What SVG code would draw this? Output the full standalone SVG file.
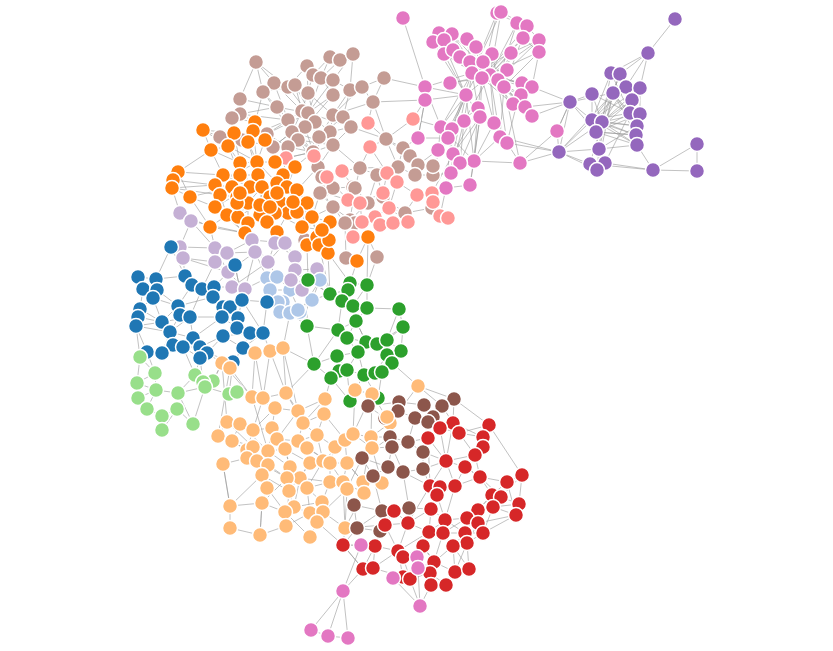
<svg xmlns="http://www.w3.org/2000/svg" width="833" height="651" viewBox="0 0 833 651">
<style>
.links path{fill:none;stroke:#999;stroke-opacity:.6;stroke-width:1}
.nodes circle{stroke:#fff;stroke-width:1.5}
.pu{fill:#9467bd}.pk{fill:#e377c2}.lbr{fill:#c49c94}.sa{fill:#ff9896}.or{fill:#ff7f0e}.lv{fill:#c5b0d5}.lbl{fill:#aec7e8}.bl{fill:#1f77b4}.lg{fill:#98df8a}.gr{fill:#2ca02c}.pe{fill:#ffbb78}.br{fill:#8c564b}.rd{fill:#d62728}
</style>
<rect width="833" height="651" fill="#fff"/>
<g class="links" id="links">
<path d="M675 19L648 53M648 53L611 73M648 53L620 74M648 53L626 87M648 53L640 88M611 73L602 122M620 74L613 93M626 87L630 113M640 88L602 122M640 88L640 114M592 94L602 122M592 94L570 102M592 94L592 120M613 93L592 120M613 93L636 135M613 93L637 126M613 93L630 113M570 102L592 120M570 102L559 152M570 102L596 132M570 102L557 131M632 100L602 122M632 100L640 114M630 113L592 120M640 114L596 132M637 126L602 122M636 135L592 120M637 145L602 122M637 145L653 170M637 126L599 149M559 152L602 122M559 152L592 120M559 152L599 149M559 152L590 164M559 152L597 170M559 152L557 131M599 149L637 145M590 164L653 170M605 163L653 170M597 170L599 149M596 132L636 135M592 120L637 145M653 170L697 144M653 170L697 171M697 144L697 171M596 132L599 149M602 122L599 149M630 113L596 132M636 135L602 122M611 73L630 113M620 74L596 132M626 87L592 120M611 73L592 120M620 74L602 122M626 87L596 132M640 88L592 120M632 100L596 132M640 114L602 122M637 126L592 120M636 135L596 132M637 145L596 132M599 149L613 93M590 164L602 122M605 163L630 113M597 170L613 93M559 152L613 93M570 102L613 93M592 94L630 113M570 102L525 107M570 102L532 87M559 152L507 143M559 152L500 137"/>
<path d="M497 13L472 73M501 12L490 75M497 13L517 23M501 12L527 26M517 23L498 80M527 26L504 87M517 23L523 38M527 26L539 40M439 33L472 73M452 34L482 78M433 42L466 95M444 40L490 75M467 39L482 78M439 33L452 34M433 42L444 40M467 39L476 47M523 38L490 75M539 40L498 80M476 47L472 73M444 54L482 78M460 57L490 75M453 50L472 73M492 54L472 73M511 53L490 75M539 52L482 78M523 38L539 52M511 53L539 40M470 62L498 80M483 62L466 95M507 70L472 73M472 73L490 75M490 75L482 78M482 78L498 80M498 80L504 87M450 83L482 78M425 87L472 73M504 87L472 73M522 83L490 75M532 87L482 78M466 95L490 75M521 95L482 78M425 100L466 95M513 104L490 75M478 108L482 78M525 107L498 80M480 117L466 95M532 116L504 87M464 121L490 75M494 123L482 78M441 127L472 73M452 129L466 95M500 137L504 87M507 143L522 83M418 138L425 100M448 138L466 95M438 150L441 127M453 154L466 95M474 161L478 108M460 163L464 121M520 163L507 143M451 173L453 154M470 185L474 161M446 188L451 173M474 161L494 123M474 161L500 137M474 161L520 163M474 161L480 117M474 161L441 127M453 154L480 117M403 18L425 87M425 87L425 100M425 87L441 127M425 100L418 138M418 138L448 138M441 127L452 129M438 150L453 154M448 138L460 163M446 188L470 185M451 173L474 161M520 163L557 131M520 163L559 152M532 116L570 102M557 131L570 102M539 52L532 87M522 83L532 87M513 104L525 107M525 107L532 116M500 137L507 143M494 123L500 137M464 121L480 117M444 54L490 75M460 57L498 80M453 50L482 78M470 62L472 73M483 62L490 75M507 70L482 78M439 33L498 80M452 34L472 73M467 39L490 75M492 54L498 80M511 53L472 73M497 13L482 78M501 12L472 73M517 23L490 75M527 26L482 78M439 33L466 95M452 34L490 75M433 42L472 73M444 40L482 78M467 39L472 73M523 38L482 78M539 40L490 75M476 47L490 75M444 54L466 95M460 57L472 73M453 50L490 75M492 54L482 78M511 53L498 80M539 52L504 87M470 62L482 78M483 62L472 73M507 70L490 75M450 83L490 75M425 87L466 95M504 87L482 78M522 83L472 73M532 87L490 75M521 95L490 75M513 104L482 78M478 108L472 73M525 107L490 75M480 117L482 78M532 116L490 75M464 121L472 73M494 123L490 75M441 127L466 95M452 129L478 108M500 137L490 75M507 143L498 80M448 138L472 73M438 150L466 95M453 154L478 108M474 161L466 95M460 163L480 117M520 163L504 87M451 173L464 121M470 185L480 117M446 188L452 129"/>
<path d="M413 119L425 100M413 119L441 127M433 166L448 138M433 175L451 173M418 165L438 150M440 216L446 188M432 193L453 154M384 78L425 87M373 102L425 100M418 138L403 148"/>
<path d="M256 62L274 83M256 62L288 87M330 57L313 75M340 60L321 78M353 54L333 80M330 57L340 60M340 60L353 54M307 66L313 75M307 66L288 87M321 78L308 113M333 80L308 113M313 75L302 111M274 83L302 111M288 87L308 113M295 85L315 122M308 93L333 115M333 95L308 113M350 90L333 115M263 92L292 132M240 99L277 107M277 107L308 113M302 111L308 113M240 114L288 120M232 118L240 114M288 120L313 152M315 122L292 132M305 127L313 152M351 127L333 115M292 132L313 152M330 132L308 113M220 137L242 140M242 140L288 120M267 134L308 113M298 140L313 152M319 137L333 115M288 147L313 152M273 147L292 132M333 145L313 152M318 167L313 152M322 192L318 167M333 188L322 177M353 187L355 188M333 207L322 192M384 78L362 87M362 87L333 115M373 102L333 115M386 139L351 127M403 148L386 139M410 156L386 139M418 165L403 148M398 167L360 168M360 168L333 145M433 175L415 175M415 175L398 167M322 177L313 152M355 188L360 168M320 193L322 177M377 175L398 167M383 197L377 175M405 213L383 197M432 208L405 213M368 203L355 188M350 220L368 203M355 223L350 220M345 223L333 207M433 166L418 165M305 240L320 193M346 258L345 223M377 257L368 237M305 240L307 203M333 80L350 90M350 90L362 87M308 93L288 87M263 92L288 87M232 118L255 122M220 137L234 133M242 140L248 142M308 113L351 127M292 132L333 145M302 111L267 134M315 122L319 137M298 140L333 145M313 152L286 158M313 152L314 156M256 62L240 99M274 83L263 92M295 85L308 93M321 78L333 95M343 117L351 127M240 114L277 107M305 127L330 132M330 132L351 127M319 137L330 132M256 62L263 92M330 57L321 78M353 54L350 90M307 66L308 93M274 83L288 120M295 85L302 111M308 93L315 122M333 95L305 127M350 90L343 117M263 92L277 107M240 99L240 114M277 107L288 120M302 111L292 132M308 113L305 127M333 115L330 132M343 117L319 137M288 120L298 140M315 122L313 152M305 127L288 147M351 127L333 145M292 132L273 147M330 132L313 152M242 140L273 147M267 134L288 147M298 140L318 167M319 137L313 152M333 145L318 167M384 78L373 102M362 87L373 102M373 102L386 139M386 139L398 167M403 148L398 167M410 156L415 175M418 165L415 175M360 168L377 175M377 175L368 203M383 197L368 203M355 188L350 220M322 177L333 188M320 193L333 207M333 188L353 187M405 213L389 208M432 208L433 202M350 220L333 207"/>
<path d="M286 158L313 152M314 156L327 177M342 171L327 177M342 171L360 168M368 123L373 102M368 123L386 139M413 119L386 139M370 147L386 139M370 147L360 168M387 173L397 182M397 182L417 195M417 195L432 193M432 193L433 202M433 202L440 216M440 216L448 218M348 200L360 203M360 203L383 193M383 193L387 173M389 208L375 217M375 217L380 225M362 222L375 217M393 223L408 222M408 222L389 208M353 237L362 222M327 177L348 200M387 173L370 147M397 182L389 208M360 203L362 222M380 225L393 223M348 200L322 192M353 237L345 223M342 171L353 187M387 173L377 175M417 195L405 213"/>
<path d="M203 130L211 150M211 150L228 146M255 122L253 131M253 131L248 142M234 133L248 142M228 146L240 163M248 142L257 162M265 140L257 162M240 163L257 162M275 162L257 162M295 167L283 175M178 172L173 180M173 180L172 188M172 188L190 197M178 172L211 150M223 175L240 175M240 175L258 175M258 175L262 187M283 175L277 183M215 185L232 187M232 187L250 187M250 187L262 187M262 187L277 183M277 183L287 187M287 187L297 190M190 197L215 207M220 195L237 197M237 197L250 187M270 197L262 187M280 202L270 197M307 203L297 190M215 207L227 215M248 203L262 187M288 213L297 212M227 215L238 217M238 217L248 203M260 215L270 207M275 213L280 202M312 217L307 203M210 227L227 215M248 223L260 215M245 233L248 223M267 222L275 213M277 232L267 222M302 227L297 212M307 245L302 227M237 203L248 203M260 205L270 207M240 193L250 187M277 193L270 197M293 202L297 190M317 237L312 217M330 222L312 217M368 237L353 237M319 245L317 237M328 253L319 245M357 261L346 258M329 240L317 237M322 230L330 222M257 162L262 187M240 175L262 187M223 175L250 187M215 185L257 162M283 175L262 187M228 146L257 162M265 140L283 175M190 197L232 187M220 195L262 187M260 215L262 187M288 213L270 197M238 217L270 197M215 207L250 187M275 162L295 167M297 190L307 203M211 150L240 163M203 130L234 133M178 172L223 175M172 188L215 185M245 233L210 227M307 245L328 253M357 261L368 237M248 142L242 140M255 122L240 114M265 140L273 147M275 162L288 147M295 167L313 152M297 190L318 167M307 203L322 192M312 217L333 207M283 175L286 158M253 131L263 92M234 133L232 118M203 130L220 137M203 130L228 146M255 122L265 140M253 131L257 162M234 133L240 163M211 150L223 175M228 146L240 175M248 142L258 175M265 140L275 162M240 163L250 187M257 162L277 183M275 162L283 175M295 167L287 187M178 172L190 197M173 180L215 185M172 188L220 195M223 175L232 187M240 175L250 187M258 175L270 197M283 175L297 190M215 185L215 207M232 187L237 203M250 187L248 203M262 187L260 205M277 183L280 202M287 187L293 202M297 190L297 212M190 197L210 227M220 195L227 215M237 197L238 217M270 197L275 213M280 202L288 213M307 203L302 227M215 207L245 233M248 203L248 223M288 213L277 232M297 212L312 217M227 215L245 233M238 217L267 222M260 215L277 232M275 213L302 227M312 217L317 237M260 205L267 222M270 207L288 213M240 193L237 203M277 193L293 202M322 230L317 237M330 222L329 240M319 245L329 240M302 227L322 230M307 245L319 245"/>
<path d="M180 213L191 221M191 221L215 248M180 213L172 188M180 247L183 258M180 247L215 248M183 258L215 262M215 248L227 253M227 253L252 240M215 262L228 272M228 272L255 252M252 240L255 252M255 252L268 262M268 262L275 243M275 243L285 243M285 243L295 257M295 257L295 270M295 270L291 280M291 280L302 290M232 287L245 289M245 289L228 272M317 269L295 270M302 290L317 269M191 221L245 233M215 248L210 227M255 252L245 233M285 243L277 232M295 257L307 245M232 287L268 262M183 258L228 272M180 213L210 227M245 289L267 278M252 240L285 243M180 247L171 247M215 248L228 272M227 253L255 252M252 240L268 262M268 262L285 243M275 243L295 257M295 270L302 290M317 269L291 280M232 287L228 272M245 289L255 252M191 221L180 247M267 278L291 280M277 277L268 262"/>
<path d="M267 278L277 277M277 277L290 290M267 278L270 290M270 290L283 302M283 302L278 302M278 302L280 312M280 312L290 313M290 313L300 312M300 312L312 300M312 300L320 280M320 280L290 290M290 290L300 312M270 290L290 290M267 278L255 252M277 277L291 280M298 310L312 300M283 302L290 313M320 280L317 269M312 300L302 290M278 302L267 302M270 290L278 302M290 290L283 302M300 312L320 280M280 312L298 310"/>
<path d="M171 247L185 276M171 247L183 258M235 265L214 287M235 265L228 272M138 277L156 279M156 279L157 290M143 289L157 290M157 290L153 298M153 298L178 306M185 276L192 285M192 285L202 289M202 289L214 287M214 287L213 297M213 297L222 317M140 309L138 317M138 317L136 326M136 326L162 322M140 309L153 298M178 306L180 315M180 315L190 317M190 317L162 322M162 322L170 332M170 332L193 338M193 338L200 347M173 345L183 347M183 347L200 347M207 353L200 358M200 358L183 347M147 352L162 353M162 353L173 345M223 307L230 307M230 307L242 300M242 300L267 302M222 317L238 318M238 318L237 328M237 328L223 336M223 336L250 333M250 333L263 333M263 333L243 348M243 348L233 362M233 362L207 353M190 317L222 317M178 306L213 297M190 317L202 289M193 338L222 317M170 332L190 317M213 297L230 307M222 317L223 307M238 318L242 300M162 322L178 306M147 352L136 326M136 326L170 332M200 347L223 336M263 333L267 302M242 300L235 265M250 333L238 318M192 285L178 306M143 289L138 277M185 276L183 258M202 289L215 262M214 287L232 287M242 300L245 289M267 302L270 290M156 279L185 276M173 345L170 332M138 277L143 289M156 279L153 298M157 290L178 306M143 289L140 309M153 298L162 322M185 276L202 289M192 285L213 297M202 289L213 297M214 287L223 307M140 309L162 322M138 317L162 322M178 306L190 317M180 315L170 332M190 317L193 338M162 322L173 345M170 332L183 347M193 338L207 353M173 345L147 352M162 353L170 332M230 307L238 318M222 317L237 328M237 328L250 333M223 336L243 348M250 333L243 348M233 362L243 348M207 353L223 336M263 333L242 300M235 265L242 300M171 247L156 279"/>
<path d="M140 357L155 373M155 373L137 383M137 383L138 398M138 398L147 409M147 409L162 416M162 416L162 430M162 416L177 409M177 409L178 393M178 393L156 390M156 390L155 373M193 424L177 409M195 375L178 393M213 381L203 382M203 382L205 387M205 387L195 375M229 394L237 392M229 394L205 387M193 424L205 387M140 357L147 352M195 375L200 358M156 390L138 398M137 383L156 390M213 381L222 363M178 393L193 424M147 409L156 390M140 357L136 326M155 373L147 352M195 375L183 347M203 382L200 358M229 394L233 362M137 383L140 357M162 430L177 409M178 393L205 387"/>
<path d="M308 280L330 294M330 294L348 290M348 290L350 283M350 283L367 285M348 290L342 301M342 301L353 306M353 306L367 308M367 308L399 309M356 321L353 306M307 326L308 280M307 326L338 330M338 330L347 338M347 338L356 321M399 309L403 327M403 327L387 340M366 342L377 344M377 344L387 340M387 340L401 351M358 352L366 342M337 356L358 352M387 355L401 351M392 363L387 355M314 364L307 326M339 371L347 370M347 370L364 375M364 375L375 373M375 373L382 372M382 372L392 363M331 378L339 371M314 364L331 378M350 401L331 378M378 398L382 372M356 321L366 342M338 330L356 321M367 285L367 308M342 301L308 280M347 338L358 352M337 356L314 364M358 352L364 375M377 344L387 355M403 327L401 351M330 294L312 300M308 280L320 280M350 283L328 253M367 285L377 257M339 371L337 356M366 342L356 321M308 280L307 245M330 294L319 245M330 294L328 253M350 283L357 261M367 285L368 237M307 326L290 313M342 301L320 280M314 364L283 348M314 364L286 393M331 378L325 399M350 401L355 390M378 398L372 394M392 363L418 386M364 375L355 390M330 294L342 301M367 285L353 306M353 306L356 321M367 308L356 321M399 309L387 340M338 330L342 301M347 338L366 342M403 327L377 344M366 342L387 355M358 352L347 370M337 356L347 370M387 355L375 373M401 351L392 363M347 370L350 401M364 375L378 398M382 372L387 355M314 364L338 330"/>
<path d="M270 351L283 348M255 353L270 351M222 363L230 368M230 368L252 397M255 353L252 397M270 351L263 398M283 348L286 393M252 397L263 398M263 398L275 408M286 393L298 411M275 408L298 411M298 411L303 423M325 399L324 414M324 414L303 423M355 390L372 394M372 394L390 423M227 422L240 424M240 424L253 430M253 430L272 428M272 428L275 408M218 436L232 441M232 441L247 450M277 439L272 428M298 441L303 423M317 435L298 441M307 448L298 441M247 450L253 447M253 447L268 451M268 451L285 449M285 449L298 441M335 447L345 440M345 440L353 434M353 434L371 437M371 437L372 448M247 458L257 461M257 461L268 465M268 465L268 451M310 463L323 461M323 461L330 463M330 463L347 463M223 464L247 458M262 475L268 465M290 467L285 449M300 478L290 467M287 478L290 467M330 482L330 463M343 482L347 463M363 482L347 463M382 483L363 482M307 488L300 478M267 488L262 475M289 491L287 478M347 489L343 482M364 493L363 482M230 506L223 464M262 503L267 488M294 507L289 491M322 502L307 488M285 512L294 507M310 513L322 502M323 512L310 513M317 522L323 512M230 528L230 506M260 535L262 503M286 526L285 512M310 537L317 522M345 528L347 489M418 386L390 423M252 397L268 451M218 436L268 451M227 422L253 447M277 439L298 441M298 441L330 463M317 435L335 447M307 448L330 463M310 463L298 441M285 449L310 463M268 451L290 467M257 461L287 478M323 461L345 440M353 434L335 447M372 448L347 463M262 475L230 506M289 491L310 463M300 478L330 482M307 488L330 482M294 507L322 502M262 503L285 512M286 526L310 513M364 493L345 528M325 399L298 411M324 414L317 435M372 394L353 434M222 363L227 422M230 368L218 436M263 398L253 430M286 393L303 423M240 424L268 451M232 441L268 465M390 423L371 437M382 483L372 448M343 482L364 493M260 535L286 526M230 528L260 535M255 353L243 348M270 351L263 333M222 363L207 353M230 368L233 362M283 348L290 313M222 363L213 381M252 397L237 392M372 394L368 406M390 423L387 417M371 437L390 437M372 448L392 447M382 483L373 476M364 493L354 505M345 528L357 528M347 489L362 458M418 386L454 399M418 386L442 406M270 351L286 393M255 353L263 398M283 348L298 411M222 363L252 397M252 397L275 408M263 398L286 393M275 408L253 430M298 411L277 439M303 423L317 435M325 399L303 423M324 414L345 440M355 390L353 434M372 394L371 437M227 422L218 436M240 424L232 441M253 430L247 450M272 428L268 451M277 439L285 449M298 441L307 448M317 435L323 461M307 448L310 463M247 450L247 458M253 447L257 461M268 451L268 465M285 449L290 467M335 447L330 463M345 440L347 463M353 434L372 448M371 437L363 482M247 458L262 475M257 461L267 488M268 465L287 478M310 463L300 478M323 461L307 488M330 463L343 482M347 463L363 482M223 464L230 506M262 475L289 491M290 467L307 488M300 478L294 507M287 478L262 503M330 482L322 502M343 482L345 528M307 488L310 513M267 488L285 512M289 491L286 526M347 489L323 512M230 506L262 503M262 503L260 535M294 507L310 513M322 502L317 522M285 512L310 537M323 512L345 528"/>
<path d="M368 406L385 418M385 418L387 417M387 417L399 402M399 402L398 411M398 411L415 418M415 418L428 422M428 422L433 417M433 417L442 406M442 406L454 399M424 405L433 417M424 405L399 402M390 437L392 447M392 447L408 442M408 442L423 452M423 452L423 469M423 469L403 472M403 472L388 467M388 467L373 476M362 458L390 437M362 458L373 476M354 505L373 476M382 511L354 505M357 528L382 511M380 531L357 528M409 508L382 511M390 437L385 418M408 442L415 418M392 447L388 467M403 472L409 508M423 452L428 422M454 399L489 425M442 406L453 423M424 405L440 428M423 469L446 461M423 452L428 438M409 508L431 509M380 531L385 525M357 528L343 545M382 511L394 511M380 531L375 546M403 472L430 486M368 406L399 402M385 418L398 411M390 437L408 442M392 447L403 472M362 458L388 467M373 476L382 511M354 505L357 528M382 511L409 508M454 399L453 423M424 405L415 418M433 417L440 428M428 422L428 438M408 442L428 438M423 452L446 461M423 469L430 486"/>
<path d="M453 423L440 428M440 428L459 433M459 433L453 423M428 438L440 428M489 425L483 437M483 437L483 447M483 447L475 455M475 455L465 467M465 467L446 461M446 461L428 438M480 477L465 467M522 475L507 482M507 482L480 477M430 486L440 487M440 487L455 486M455 486L437 495M437 495L430 486M492 495L501 497M501 497L519 504M519 504L516 515M516 515L493 507M493 507L478 510M478 510L467 518M467 518L445 520M445 520L431 509M431 509L437 495M394 511L408 523M408 523L385 525M478 523L483 533M483 533L465 533M465 533L467 543M429 532L443 533M443 533L445 520M343 545L375 546M375 546L398 551M398 551L403 557M403 557L423 546M423 546L429 532M453 546L443 533M434 562L423 546M430 573L434 562M455 572L453 546M469 569L455 572M363 569L373 568M373 568L398 551M403 577L410 579M410 579L430 573M431 585L430 573M446 585L455 572M459 433L483 437M446 461L455 486M480 477L492 495M455 486L480 477M493 507L501 497M478 510L492 495M465 467L455 486M475 455L480 477M437 495L445 520M431 509L408 523M467 518L478 523M467 543L453 546M483 533L516 515M465 533L443 533M522 475L519 504M489 425L522 475M440 487L431 509M428 438L430 486M394 511L385 525M385 525L375 546M408 523L429 532M398 551L429 532M434 562L455 572M469 569L467 543M363 569L343 545M403 577L373 568M446 585L431 585M445 520L465 533M453 423L446 461M430 486L408 523M478 510L483 533M507 482L516 515M453 423L483 437M489 425L459 433M440 428L446 461M459 433L475 455M483 437L475 455M483 447L465 467M475 455L446 461M446 461L430 486M465 467L480 477M480 477L501 497M522 475L501 497M507 482L492 495M440 487L437 495M455 486L445 520M492 495L478 510M519 504L493 507M516 515L478 523M493 507L483 533M478 510L465 533M467 518L443 533M445 520L429 532M431 509L429 532M408 523L398 551M385 525L398 551M478 523L467 543M483 533L467 543M465 533L453 546M467 543L455 572M429 532L423 546M443 533L434 562M343 545L363 569M375 546L373 568M398 551L403 577M403 557L410 579M423 546L434 562M453 546L434 562M434 562L431 585M430 573L446 585M455 572L446 585M469 569L453 546M363 569L375 546"/>
<path d="M361 545L343 545M361 545L375 546M417 557L403 557M418 568L434 562M393 578L403 577M343 591L363 569M343 591L361 545M420 606L393 578M420 606L431 585M420 606L418 568M420 606L410 579M311 630L343 591M328 636L343 591M348 638L343 591M311 630L328 636M328 636L348 638M417 557L418 568M393 578L418 568M385 525L345 528M343 545L345 528M343 545L317 522"/>
</g>
<g class="nodes" id="nodes">
<g id="pu1" class="pu"><circle cx="675" cy="19" r="7.5"/></g>
<g id="pu2" class="pu"><circle cx="648" cy="53" r="7.5"/></g>
<g id="pu3" class="pu"><circle cx="611" cy="73" r="7.5"/></g>
<g id="pu4" class="pu"><circle cx="620" cy="74" r="7.5"/></g>
<g id="pu5" class="pu"><circle cx="626" cy="87" r="7.5"/></g>
<g id="pu6" class="pu"><circle cx="640" cy="88" r="7.5"/></g>
<g id="pu7" class="pu"><circle cx="592" cy="94" r="7.5"/></g>
<g id="pu8" class="pu"><circle cx="613" cy="93" r="7.5"/></g>
<g id="pu9" class="pu"><circle cx="570" cy="102" r="7.5"/></g>
<g id="pu10" class="pu"><circle cx="632" cy="100" r="7.5"/></g>
<g id="pu11" class="pu"><circle cx="630" cy="113" r="7.5"/></g>
<g id="pu12" class="pu"><circle cx="640" cy="114" r="7.5"/></g>
<g id="pu13" class="pu"><circle cx="592" cy="120" r="7.5"/></g>
<g id="pu14" class="pu"><circle cx="602" cy="122" r="7.5"/></g>
<g id="pu15" class="pu"><circle cx="596" cy="132" r="7.5"/></g>
<g id="pu16" class="pu"><circle cx="637" cy="126" r="7.5"/></g>
<g id="pu17" class="pu"><circle cx="636" cy="135" r="7.5"/></g>
<g id="pu18" class="pu"><circle cx="637" cy="145" r="7.5"/></g>
<g id="pu19" class="pu"><circle cx="559" cy="152" r="7.5"/></g>
<g id="pu20" class="pu"><circle cx="599" cy="149" r="7.5"/></g>
<g id="pu21" class="pu"><circle cx="590" cy="164" r="7.5"/></g>
<g id="pu22" class="pu"><circle cx="605" cy="163" r="7.5"/></g>
<g id="pu23" class="pu"><circle cx="597" cy="170" r="7.5"/></g>
<g id="pu24" class="pu"><circle cx="653" cy="170" r="7.5"/></g>
<g id="pu25" class="pu"><circle cx="697" cy="144" r="7.5"/></g>
<g id="pu26" class="pu"><circle cx="697" cy="171" r="7.5"/></g>
<g id="pk1" class="pk"><circle cx="403" cy="18" r="7.5"/></g>
<g id="pk2" class="pk"><circle cx="497" cy="13" r="7.5"/></g>
<g id="pk3" class="pk"><circle cx="501" cy="12" r="7.5"/></g>
<g id="pk4" class="pk"><circle cx="517" cy="23" r="7.5"/></g>
<g id="pk5" class="pk"><circle cx="527" cy="26" r="7.5"/></g>
<g id="pk6" class="pk"><circle cx="439" cy="33" r="7.5"/></g>
<g id="pk7" class="pk"><circle cx="452" cy="34" r="7.5"/></g>
<g id="pk8" class="pk"><circle cx="433" cy="42" r="7.5"/></g>
<g id="pk9" class="pk"><circle cx="444" cy="40" r="7.5"/></g>
<g id="pk10" class="pk"><circle cx="467" cy="39" r="7.5"/></g>
<g id="pk11" class="pk"><circle cx="523" cy="38" r="7.5"/></g>
<g id="pk12" class="pk"><circle cx="539" cy="40" r="7.5"/></g>
<g id="pk13" class="pk"><circle cx="476" cy="47" r="7.5"/></g>
<g id="pk14" class="pk"><circle cx="444" cy="54" r="7.5"/></g>
<g id="pk15" class="pk"><circle cx="453" cy="50" r="7.5"/></g>
<g id="pk16" class="pk"><circle cx="460" cy="57" r="7.5"/></g>
<g id="pk17" class="pk"><circle cx="492" cy="54" r="7.5"/></g>
<g id="pk18" class="pk"><circle cx="511" cy="53" r="7.5"/></g>
<g id="pk19" class="pk"><circle cx="539" cy="52" r="7.5"/></g>
<g id="pk20" class="pk"><circle cx="470" cy="62" r="7.5"/></g>
<g id="pk21" class="pk"><circle cx="483" cy="62" r="7.5"/></g>
<g id="pk22" class="pk"><circle cx="507" cy="70" r="7.5"/></g>
<g id="pk23" class="pk"><circle cx="472" cy="73" r="7.5"/></g>
<g id="pk24" class="pk"><circle cx="490" cy="75" r="7.5"/></g>
<g id="pk25" class="pk"><circle cx="482" cy="78" r="7.5"/></g>
<g id="pk26" class="pk"><circle cx="498" cy="80" r="7.5"/></g>
<g id="pk27" class="pk"><circle cx="450" cy="83" r="7.5"/></g>
<g id="pk28" class="pk"><circle cx="425" cy="87" r="7.5"/></g>
<g id="pk29" class="pk"><circle cx="504" cy="87" r="7.5"/></g>
<g id="pk30" class="pk"><circle cx="522" cy="83" r="7.5"/></g>
<g id="pk31" class="pk"><circle cx="532" cy="87" r="7.5"/></g>
<g id="pk32" class="pk"><circle cx="466" cy="95" r="7.5"/></g>
<g id="pk33" class="pk"><circle cx="521" cy="95" r="7.5"/></g>
<g id="pk34" class="pk"><circle cx="425" cy="100" r="7.5"/></g>
<g id="pk35" class="pk"><circle cx="513" cy="104" r="7.5"/></g>
<g id="pk36" class="pk"><circle cx="478" cy="108" r="7.5"/></g>
<g id="pk37" class="pk"><circle cx="525" cy="107" r="7.5"/></g>
<g id="pk38" class="pk"><circle cx="480" cy="117" r="7.5"/></g>
<g id="pk39" class="pk"><circle cx="532" cy="116" r="7.5"/></g>
<g id="pk40" class="pk"><circle cx="464" cy="121" r="7.5"/></g>
<g id="pk41" class="pk"><circle cx="494" cy="123" r="7.5"/></g>
<g id="pk42" class="pk"><circle cx="441" cy="127" r="7.5"/></g>
<g id="pk43" class="pk"><circle cx="452" cy="129" r="7.5"/></g>
<g id="pk44" class="pk"><circle cx="557" cy="131" r="7.5"/></g>
<g id="pk45" class="pk"><circle cx="500" cy="137" r="7.5"/></g>
<g id="pk46" class="pk"><circle cx="507" cy="143" r="7.5"/></g>
<g id="pk47" class="pk"><circle cx="418" cy="138" r="7.5"/></g>
<g id="pk48" class="pk"><circle cx="448" cy="138" r="7.5"/></g>
<g id="pk49" class="pk"><circle cx="438" cy="150" r="7.5"/></g>
<g id="pk50" class="pk"><circle cx="453" cy="154" r="7.5"/></g>
<g id="pk51" class="pk"><circle cx="474" cy="161" r="7.5"/></g>
<g id="pk52" class="pk"><circle cx="460" cy="163" r="7.5"/></g>
<g id="pk53" class="pk"><circle cx="520" cy="163" r="7.5"/></g>
<g id="pk54" class="pk"><circle cx="451" cy="173" r="7.5"/></g>
<g id="pk55" class="pk"><circle cx="470" cy="185" r="7.5"/></g>
<g id="pk56" class="pk"><circle cx="446" cy="188" r="7.5"/></g>
<g id="lbr1" class="lbr"><circle cx="256" cy="62" r="7.5"/></g>
<g id="lbr2" class="lbr"><circle cx="330" cy="57" r="7.5"/></g>
<g id="lbr3" class="lbr"><circle cx="340" cy="60" r="7.5"/></g>
<g id="lbr4" class="lbr"><circle cx="353" cy="54" r="7.5"/></g>
<g id="lbr5" class="lbr"><circle cx="307" cy="66" r="7.5"/></g>
<g id="lbr6" class="lbr"><circle cx="313" cy="75" r="7.5"/></g>
<g id="lbr7" class="lbr"><circle cx="321" cy="78" r="7.5"/></g>
<g id="lbr8" class="lbr"><circle cx="333" cy="80" r="7.5"/></g>
<g id="lbr9" class="lbr"><circle cx="274" cy="83" r="7.5"/></g>
<g id="lbr10" class="lbr"><circle cx="288" cy="87" r="7.5"/></g>
<g id="lbr11" class="lbr"><circle cx="295" cy="85" r="7.5"/></g>
<g id="lbr12" class="lbr"><circle cx="308" cy="93" r="7.5"/></g>
<g id="lbr13" class="lbr"><circle cx="333" cy="95" r="7.5"/></g>
<g id="lbr14" class="lbr"><circle cx="350" cy="90" r="7.5"/></g>
<g id="lbr15" class="lbr"><circle cx="263" cy="92" r="7.5"/></g>
<g id="lbr16" class="lbr"><circle cx="240" cy="99" r="7.5"/></g>
<g id="lbr17" class="lbr"><circle cx="277" cy="107" r="7.5"/></g>
<g id="lbr18" class="lbr"><circle cx="302" cy="111" r="7.5"/></g>
<g id="lbr19" class="lbr"><circle cx="308" cy="113" r="7.5"/></g>
<g id="lbr20" class="lbr"><circle cx="333" cy="115" r="7.5"/></g>
<g id="lbr21" class="lbr"><circle cx="343" cy="117" r="7.5"/></g>
<g id="lbr22" class="lbr"><circle cx="240" cy="114" r="7.5"/></g>
<g id="lbr23" class="lbr"><circle cx="232" cy="118" r="7.5"/></g>
<g id="lbr24" class="lbr"><circle cx="288" cy="120" r="7.5"/></g>
<g id="lbr25" class="lbr"><circle cx="315" cy="122" r="7.5"/></g>
<g id="lbr26" class="lbr"><circle cx="305" cy="127" r="7.5"/></g>
<g id="lbr27" class="lbr"><circle cx="351" cy="127" r="7.5"/></g>
<g id="lbr28" class="lbr"><circle cx="292" cy="132" r="7.5"/></g>
<g id="lbr29" class="lbr"><circle cx="330" cy="132" r="7.5"/></g>
<g id="lbr30" class="lbr"><circle cx="220" cy="137" r="7.5"/></g>
<g id="lbr31" class="lbr"><circle cx="242" cy="140" r="7.5"/></g>
<g id="lbr32" class="lbr"><circle cx="267" cy="134" r="7.5"/></g>
<g id="lbr33" class="lbr"><circle cx="298" cy="140" r="7.5"/></g>
<g id="lbr34" class="lbr"><circle cx="319" cy="137" r="7.5"/></g>
<g id="lbr35" class="lbr"><circle cx="288" cy="147" r="7.5"/></g>
<g id="lbr36" class="lbr"><circle cx="273" cy="147" r="7.5"/></g>
<g id="lbr37" class="lbr"><circle cx="313" cy="152" r="7.5"/></g>
<g id="lbr38" class="lbr"><circle cx="333" cy="145" r="7.5"/></g>
<g id="lbr39" class="lbr"><circle cx="318" cy="167" r="7.5"/></g>
<g id="lbr40" class="lbr"><circle cx="322" cy="192" r="7.5"/></g>
<g id="lbr41" class="lbr"><circle cx="333" cy="188" r="7.5"/></g>
<g id="lbr42" class="lbr"><circle cx="353" cy="187" r="7.5"/></g>
<g id="lbr43" class="lbr"><circle cx="333" cy="207" r="7.5"/></g>
<g id="lbr44" class="lbr"><circle cx="384" cy="78" r="7.5"/></g>
<g id="lbr45" class="lbr"><circle cx="362" cy="87" r="7.5"/></g>
<g id="lbr46" class="lbr"><circle cx="373" cy="102" r="7.5"/></g>
<g id="lbr47" class="lbr"><circle cx="386" cy="139" r="7.5"/></g>
<g id="lbr48" class="lbr"><circle cx="403" cy="148" r="7.5"/></g>
<g id="lbr49" class="lbr"><circle cx="410" cy="156" r="7.5"/></g>
<g id="lbr50" class="lbr"><circle cx="418" cy="165" r="7.5"/></g>
<g id="lbr51" class="lbr"><circle cx="398" cy="167" r="7.5"/></g>
<g id="lbr52" class="lbr"><circle cx="360" cy="168" r="7.5"/></g>
<g id="lbr53" class="lbr"><circle cx="433" cy="175" r="7.5"/></g>
<g id="lbr54" class="lbr"><circle cx="415" cy="175" r="7.5"/></g>
<g id="lbr55" class="lbr"><circle cx="322" cy="177" r="7.5"/></g>
<g id="lbr56" class="lbr"><circle cx="320" cy="193" r="7.5"/></g>
<g id="lbr57" class="lbr"><circle cx="377" cy="175" r="7.5"/></g>
<g id="lbr58" class="lbr"><circle cx="383" cy="197" r="7.5"/></g>
<g id="lbr59" class="lbr"><circle cx="405" cy="213" r="7.5"/></g>
<g id="lbr60" class="lbr"><circle cx="432" cy="208" r="7.5"/></g>
<g id="lbr61" class="lbr"><circle cx="368" cy="203" r="7.5"/></g>
<g id="lbr62" class="lbr"><circle cx="350" cy="220" r="7.5"/></g>
<g id="lbr63" class="lbr"><circle cx="355" cy="223" r="7.5"/></g>
<g id="lbr64" class="lbr"><circle cx="345" cy="223" r="7.5"/></g>
<g id="lbr65" class="lbr"><circle cx="433" cy="166" r="7.5"/></g>
<g id="lbr66" class="lbr"><circle cx="305" cy="240" r="7.5"/></g>
<g id="lbr67" class="lbr"><circle cx="346" cy="258" r="7.5"/></g>
<g id="lbr68" class="lbr"><circle cx="377" cy="257" r="7.5"/></g>
<g id="lbr69" class="lbr"><circle cx="355" cy="188" r="7.5"/></g>
<g id="sa1" class="sa"><circle cx="286" cy="158" r="7.5"/></g>
<g id="sa2" class="sa"><circle cx="314" cy="156" r="7.5"/></g>
<g id="sa3" class="sa"><circle cx="342" cy="171" r="7.5"/></g>
<g id="sa4" class="sa"><circle cx="327" cy="177" r="7.5"/></g>
<g id="sa5" class="sa"><circle cx="368" cy="123" r="7.5"/></g>
<g id="sa6" class="sa"><circle cx="413" cy="119" r="7.5"/></g>
<g id="sa7" class="sa"><circle cx="370" cy="147" r="7.5"/></g>
<g id="sa8" class="sa"><circle cx="387" cy="173" r="7.5"/></g>
<g id="sa9" class="sa"><circle cx="397" cy="182" r="7.5"/></g>
<g id="sa10" class="sa"><circle cx="417" cy="195" r="7.5"/></g>
<g id="sa11" class="sa"><circle cx="432" cy="193" r="7.5"/></g>
<g id="sa12" class="sa"><circle cx="433" cy="202" r="7.5"/></g>
<g id="sa13" class="sa"><circle cx="348" cy="200" r="7.5"/></g>
<g id="sa14" class="sa"><circle cx="360" cy="203" r="7.5"/></g>
<g id="sa15" class="sa"><circle cx="383" cy="193" r="7.5"/></g>
<g id="sa16" class="sa"><circle cx="389" cy="208" r="7.5"/></g>
<g id="sa17" class="sa"><circle cx="375" cy="217" r="7.5"/></g>
<g id="sa18" class="sa"><circle cx="380" cy="225" r="7.5"/></g>
<g id="sa19" class="sa"><circle cx="362" cy="222" r="7.5"/></g>
<g id="sa20" class="sa"><circle cx="393" cy="223" r="7.5"/></g>
<g id="sa21" class="sa"><circle cx="440" cy="216" r="7.5"/></g>
<g id="sa22" class="sa"><circle cx="448" cy="218" r="7.5"/></g>
<g id="sa23" class="sa"><circle cx="408" cy="222" r="7.5"/></g>
<g id="sa24" class="sa"><circle cx="353" cy="237" r="7.5"/></g>
<g id="or1" class="or"><circle cx="203" cy="130" r="7.5"/></g>
<g id="or2" class="or"><circle cx="255" cy="122" r="7.5"/></g>
<g id="or3" class="or"><circle cx="253" cy="131" r="7.5"/></g>
<g id="or4" class="or"><circle cx="234" cy="133" r="7.5"/></g>
<g id="or5" class="or"><circle cx="211" cy="150" r="7.5"/></g>
<g id="or6" class="or"><circle cx="228" cy="146" r="7.5"/></g>
<g id="or7" class="or"><circle cx="248" cy="142" r="7.5"/></g>
<g id="or8" class="or"><circle cx="265" cy="140" r="7.5"/></g>
<g id="or9" class="or"><circle cx="240" cy="163" r="7.5"/></g>
<g id="or10" class="or"><circle cx="257" cy="162" r="7.5"/></g>
<g id="or11" class="or"><circle cx="275" cy="162" r="7.5"/></g>
<g id="or12" class="or"><circle cx="295" cy="167" r="7.5"/></g>
<g id="or13" class="or"><circle cx="178" cy="172" r="7.5"/></g>
<g id="or14" class="or"><circle cx="173" cy="180" r="7.5"/></g>
<g id="or15" class="or"><circle cx="172" cy="188" r="7.5"/></g>
<g id="or16" class="or"><circle cx="223" cy="175" r="7.5"/></g>
<g id="or17" class="or"><circle cx="240" cy="175" r="7.5"/></g>
<g id="or18" class="or"><circle cx="258" cy="175" r="7.5"/></g>
<g id="or19" class="or"><circle cx="283" cy="175" r="7.5"/></g>
<g id="or20" class="or"><circle cx="215" cy="185" r="7.5"/></g>
<g id="or21" class="or"><circle cx="232" cy="187" r="7.5"/></g>
<g id="or22" class="or"><circle cx="250" cy="187" r="7.5"/></g>
<g id="or23" class="or"><circle cx="262" cy="187" r="7.5"/></g>
<g id="or24" class="or"><circle cx="277" cy="183" r="7.5"/></g>
<g id="or25" class="or"><circle cx="287" cy="187" r="7.5"/></g>
<g id="or26" class="or"><circle cx="297" cy="190" r="7.5"/></g>
<g id="or27" class="or"><circle cx="190" cy="197" r="7.5"/></g>
<g id="or28" class="or"><circle cx="220" cy="195" r="7.5"/></g>
<g id="or29" class="or"><circle cx="237" cy="197" r="7.5"/></g>
<g id="or30" class="or"><circle cx="270" cy="197" r="7.5"/></g>
<g id="or31" class="or"><circle cx="280" cy="202" r="7.5"/></g>
<g id="or32" class="or"><circle cx="307" cy="203" r="7.5"/></g>
<g id="or33" class="or"><circle cx="215" cy="207" r="7.5"/></g>
<g id="or34" class="or"><circle cx="248" cy="203" r="7.5"/></g>
<g id="or35" class="or"><circle cx="288" cy="213" r="7.5"/></g>
<g id="or36" class="or"><circle cx="297" cy="212" r="7.5"/></g>
<g id="or37" class="or"><circle cx="227" cy="215" r="7.5"/></g>
<g id="or38" class="or"><circle cx="238" cy="217" r="7.5"/></g>
<g id="or39" class="or"><circle cx="260" cy="215" r="7.5"/></g>
<g id="or40" class="or"><circle cx="275" cy="213" r="7.5"/></g>
<g id="or41" class="or"><circle cx="312" cy="217" r="7.5"/></g>
<g id="or42" class="or"><circle cx="210" cy="227" r="7.5"/></g>
<g id="or43" class="or"><circle cx="248" cy="223" r="7.5"/></g>
<g id="or44" class="or"><circle cx="245" cy="233" r="7.5"/></g>
<g id="or45" class="or"><circle cx="267" cy="222" r="7.5"/></g>
<g id="or46" class="or"><circle cx="277" cy="232" r="7.5"/></g>
<g id="or47" class="or"><circle cx="302" cy="227" r="7.5"/></g>
<g id="or48" class="or"><circle cx="307" cy="245" r="7.5"/></g>
<g id="or49" class="or"><circle cx="237" cy="203" r="7.5"/></g>
<g id="or50" class="or"><circle cx="260" cy="205" r="7.5"/></g>
<g id="or51" class="or"><circle cx="270" cy="207" r="7.5"/></g>
<g id="or52" class="or"><circle cx="240" cy="193" r="7.5"/></g>
<g id="or53" class="or"><circle cx="277" cy="193" r="7.5"/></g>
<g id="or54" class="or"><circle cx="293" cy="202" r="7.5"/></g>
<g id="or55" class="or"><circle cx="317" cy="237" r="7.5"/></g>
<g id="or56" class="or"><circle cx="330" cy="222" r="7.5"/></g>
<g id="or57" class="or"><circle cx="368" cy="237" r="7.5"/></g>
<g id="or58" class="or"><circle cx="319" cy="245" r="7.5"/></g>
<g id="or59" class="or"><circle cx="328" cy="253" r="7.5"/></g>
<g id="or60" class="or"><circle cx="357" cy="261" r="7.5"/></g>
<g id="or61" class="or"><circle cx="329" cy="240" r="7.5"/></g>
<g id="or62" class="or"><circle cx="322" cy="230" r="7.5"/></g>
<g id="lv1" class="lv"><circle cx="180" cy="213" r="7.5"/></g>
<g id="lv2" class="lv"><circle cx="191" cy="221" r="7.5"/></g>
<g id="lv3" class="lv"><circle cx="180" cy="247" r="7.5"/></g>
<g id="lv4" class="lv"><circle cx="183" cy="258" r="7.5"/></g>
<g id="lv5" class="lv"><circle cx="215" cy="248" r="7.5"/></g>
<g id="lv6" class="lv"><circle cx="227" cy="253" r="7.5"/></g>
<g id="lv7" class="lv"><circle cx="215" cy="262" r="7.5"/></g>
<g id="lv8" class="lv"><circle cx="228" cy="272" r="7.5"/></g>
<g id="lv9" class="lv"><circle cx="252" cy="240" r="7.5"/></g>
<g id="lv10" class="lv"><circle cx="255" cy="252" r="7.5"/></g>
<g id="lv11" class="lv"><circle cx="268" cy="262" r="7.5"/></g>
<g id="lv12" class="lv"><circle cx="275" cy="243" r="7.5"/></g>
<g id="lv13" class="lv"><circle cx="285" cy="243" r="7.5"/></g>
<g id="lv14" class="lv"><circle cx="295" cy="257" r="7.5"/></g>
<g id="lv15" class="lv"><circle cx="295" cy="270" r="7.5"/></g>
<g id="lv16" class="lv"><circle cx="317" cy="269" r="7.5"/></g>
<g id="lv17" class="lv"><circle cx="232" cy="287" r="7.5"/></g>
<g id="lv18" class="lv"><circle cx="245" cy="289" r="7.5"/></g>
<g id="lbl1" class="lbl"><circle cx="267" cy="278" r="7.5"/></g>
<g id="lbl2" class="lbl"><circle cx="277" cy="277" r="7.5"/></g>
<g id="lbl3" class="lbl"><circle cx="270" cy="290" r="7.5"/></g>
<g id="lbl4" class="lbl"><circle cx="290" cy="290" r="7.5"/></g>
<g id="lbl5" class="lbl"><circle cx="320" cy="280" r="7.5"/></g>
<g id="lbl6" class="lbl"><circle cx="312" cy="300" r="7.5"/></g>
<g id="lbl7" class="lbl"><circle cx="283" cy="302" r="7.5"/></g>
<g id="lbl8" class="lbl"><circle cx="278" cy="302" r="7.5"/></g>
<g id="lbl9" class="lbl"><circle cx="280" cy="312" r="7.5"/></g>
<g id="lbl10" class="lbl"><circle cx="290" cy="313" r="7.5"/></g>
<g id="lbl11" class="lbl"><circle cx="300" cy="312" r="7.5"/></g>
<g id="lbl12" class="lbl"><circle cx="298" cy="310" r="7.5"/></g>
<g id="lv19" class="lv"><circle cx="291" cy="280" r="7.5"/></g>
<g id="lv20" class="lv"><circle cx="302" cy="290" r="7.5"/></g>
<g id="bl1" class="bl"><circle cx="171" cy="247" r="7.5"/></g>
<g id="bl2" class="bl"><circle cx="235" cy="265" r="7.5"/></g>
<g id="bl3" class="bl"><circle cx="138" cy="277" r="7.5"/></g>
<g id="bl4" class="bl"><circle cx="156" cy="279" r="7.5"/></g>
<g id="bl5" class="bl"><circle cx="143" cy="289" r="7.5"/></g>
<g id="bl6" class="bl"><circle cx="157" cy="290" r="7.5"/></g>
<g id="bl7" class="bl"><circle cx="153" cy="298" r="7.5"/></g>
<g id="bl8" class="bl"><circle cx="185" cy="276" r="7.5"/></g>
<g id="bl9" class="bl"><circle cx="192" cy="285" r="7.5"/></g>
<g id="bl10" class="bl"><circle cx="202" cy="289" r="7.5"/></g>
<g id="bl11" class="bl"><circle cx="214" cy="287" r="7.5"/></g>
<g id="bl12" class="bl"><circle cx="213" cy="297" r="7.5"/></g>
<g id="bl13" class="bl"><circle cx="140" cy="309" r="7.5"/></g>
<g id="bl14" class="bl"><circle cx="138" cy="317" r="7.5"/></g>
<g id="bl15" class="bl"><circle cx="136" cy="326" r="7.5"/></g>
<g id="bl16" class="bl"><circle cx="178" cy="306" r="7.5"/></g>
<g id="bl17" class="bl"><circle cx="180" cy="315" r="7.5"/></g>
<g id="bl18" class="bl"><circle cx="190" cy="317" r="7.5"/></g>
<g id="bl19" class="bl"><circle cx="162" cy="322" r="7.5"/></g>
<g id="bl20" class="bl"><circle cx="170" cy="332" r="7.5"/></g>
<g id="bl21" class="bl"><circle cx="193" cy="338" r="7.5"/></g>
<g id="bl22" class="bl"><circle cx="200" cy="347" r="7.5"/></g>
<g id="bl23" class="bl"><circle cx="173" cy="345" r="7.5"/></g>
<g id="bl24" class="bl"><circle cx="183" cy="347" r="7.5"/></g>
<g id="bl25" class="bl"><circle cx="207" cy="353" r="7.5"/></g>
<g id="bl26" class="bl"><circle cx="200" cy="358" r="7.5"/></g>
<g id="bl27" class="bl"><circle cx="147" cy="352" r="7.5"/></g>
<g id="bl28" class="bl"><circle cx="162" cy="353" r="7.5"/></g>
<g id="bl29" class="bl"><circle cx="223" cy="307" r="7.5"/></g>
<g id="bl30" class="bl"><circle cx="230" cy="307" r="7.5"/></g>
<g id="bl31" class="bl"><circle cx="242" cy="300" r="7.5"/></g>
<g id="bl32" class="bl"><circle cx="222" cy="317" r="7.5"/></g>
<g id="bl33" class="bl"><circle cx="238" cy="318" r="7.5"/></g>
<g id="bl34" class="bl"><circle cx="237" cy="328" r="7.5"/></g>
<g id="bl35" class="bl"><circle cx="223" cy="336" r="7.5"/></g>
<g id="bl36" class="bl"><circle cx="250" cy="333" r="7.5"/></g>
<g id="bl37" class="bl"><circle cx="263" cy="333" r="7.5"/></g>
<g id="bl38" class="bl"><circle cx="243" cy="348" r="7.5"/></g>
<g id="bl39" class="bl"><circle cx="233" cy="362" r="7.5"/></g>
<g id="bl40" class="bl"><circle cx="267" cy="302" r="7.5"/></g>
<g id="lg1" class="lg"><circle cx="140" cy="357" r="7.5"/></g>
<g id="lg2" class="lg"><circle cx="155" cy="373" r="7.5"/></g>
<g id="lg3" class="lg"><circle cx="137" cy="383" r="7.5"/></g>
<g id="lg4" class="lg"><circle cx="138" cy="398" r="7.5"/></g>
<g id="lg5" class="lg"><circle cx="147" cy="409" r="7.5"/></g>
<g id="lg6" class="lg"><circle cx="162" cy="416" r="7.5"/></g>
<g id="lg7" class="lg"><circle cx="162" cy="430" r="7.5"/></g>
<g id="lg8" class="lg"><circle cx="177" cy="409" r="7.5"/></g>
<g id="lg9" class="lg"><circle cx="178" cy="393" r="7.5"/></g>
<g id="lg10" class="lg"><circle cx="193" cy="424" r="7.5"/></g>
<g id="lg11" class="lg"><circle cx="195" cy="375" r="7.5"/></g>
<g id="lg12" class="lg"><circle cx="213" cy="381" r="7.5"/></g>
<g id="lg13" class="lg"><circle cx="203" cy="382" r="7.5"/></g>
<g id="lg14" class="lg"><circle cx="205" cy="387" r="7.5"/></g>
<g id="lg15" class="lg"><circle cx="229" cy="394" r="7.5"/></g>
<g id="lg16" class="lg"><circle cx="237" cy="392" r="7.5"/></g>
<g id="lg17" class="lg"><circle cx="156" cy="390" r="7.5"/></g>
<g id="gr1" class="gr"><circle cx="308" cy="280" r="7.5"/></g>
<g id="gr2" class="gr"><circle cx="330" cy="294" r="7.5"/></g>
<g id="gr3" class="gr"><circle cx="350" cy="283" r="7.5"/></g>
<g id="gr4" class="gr"><circle cx="367" cy="285" r="7.5"/></g>
<g id="gr5" class="gr"><circle cx="348" cy="290" r="7.5"/></g>
<g id="gr6" class="gr"><circle cx="342" cy="301" r="7.5"/></g>
<g id="gr7" class="gr"><circle cx="353" cy="306" r="7.5"/></g>
<g id="gr8" class="gr"><circle cx="367" cy="308" r="7.5"/></g>
<g id="gr9" class="gr"><circle cx="399" cy="309" r="7.5"/></g>
<g id="gr10" class="gr"><circle cx="356" cy="321" r="7.5"/></g>
<g id="gr11" class="gr"><circle cx="307" cy="326" r="7.5"/></g>
<g id="gr12" class="gr"><circle cx="338" cy="330" r="7.5"/></g>
<g id="gr13" class="gr"><circle cx="347" cy="338" r="7.5"/></g>
<g id="gr14" class="gr"><circle cx="403" cy="327" r="7.5"/></g>
<g id="gr15" class="gr"><circle cx="366" cy="342" r="7.5"/></g>
<g id="gr16" class="gr"><circle cx="377" cy="344" r="7.5"/></g>
<g id="gr17" class="gr"><circle cx="387" cy="340" r="7.5"/></g>
<g id="gr18" class="gr"><circle cx="401" cy="351" r="7.5"/></g>
<g id="gr19" class="gr"><circle cx="358" cy="352" r="7.5"/></g>
<g id="gr20" class="gr"><circle cx="337" cy="356" r="7.5"/></g>
<g id="gr21" class="gr"><circle cx="387" cy="355" r="7.5"/></g>
<g id="gr22" class="gr"><circle cx="392" cy="363" r="7.5"/></g>
<g id="gr23" class="gr"><circle cx="314" cy="364" r="7.5"/></g>
<g id="gr24" class="gr"><circle cx="339" cy="371" r="7.5"/></g>
<g id="gr25" class="gr"><circle cx="347" cy="370" r="7.5"/></g>
<g id="gr26" class="gr"><circle cx="364" cy="375" r="7.5"/></g>
<g id="gr27" class="gr"><circle cx="375" cy="373" r="7.5"/></g>
<g id="gr28" class="gr"><circle cx="382" cy="372" r="7.5"/></g>
<g id="gr29" class="gr"><circle cx="331" cy="378" r="7.5"/></g>
<g id="gr30" class="gr"><circle cx="350" cy="401" r="7.5"/></g>
<g id="gr31" class="gr"><circle cx="378" cy="398" r="7.5"/></g>
<g id="pe1" class="pe"><circle cx="270" cy="351" r="7.5"/></g>
<g id="pe2" class="pe"><circle cx="283" cy="348" r="7.5"/></g>
<g id="pe3" class="pe"><circle cx="255" cy="353" r="7.5"/></g>
<g id="pe4" class="pe"><circle cx="222" cy="363" r="7.5"/></g>
<g id="pe5" class="pe"><circle cx="230" cy="368" r="7.5"/></g>
<g id="pe6" class="pe"><circle cx="252" cy="397" r="7.5"/></g>
<g id="pe7" class="pe"><circle cx="263" cy="398" r="7.5"/></g>
<g id="pe8" class="pe"><circle cx="286" cy="393" r="7.5"/></g>
<g id="pe9" class="pe"><circle cx="275" cy="408" r="7.5"/></g>
<g id="pe10" class="pe"><circle cx="298" cy="411" r="7.5"/></g>
<g id="pe11" class="pe"><circle cx="303" cy="423" r="7.5"/></g>
<g id="pe12" class="pe"><circle cx="325" cy="399" r="7.5"/></g>
<g id="pe13" class="pe"><circle cx="324" cy="414" r="7.5"/></g>
<g id="pe14" class="pe"><circle cx="355" cy="390" r="7.5"/></g>
<g id="pe15" class="pe"><circle cx="372" cy="394" r="7.5"/></g>
<g id="pe16" class="pe"><circle cx="390" cy="423" r="7.5"/></g>
<g id="pe17" class="pe"><circle cx="227" cy="422" r="7.5"/></g>
<g id="pe18" class="pe"><circle cx="240" cy="424" r="7.5"/></g>
<g id="pe19" class="pe"><circle cx="253" cy="430" r="7.5"/></g>
<g id="pe20" class="pe"><circle cx="272" cy="428" r="7.5"/></g>
<g id="pe21" class="pe"><circle cx="218" cy="436" r="7.5"/></g>
<g id="pe22" class="pe"><circle cx="232" cy="441" r="7.5"/></g>
<g id="pe23" class="pe"><circle cx="277" cy="439" r="7.5"/></g>
<g id="pe24" class="pe"><circle cx="298" cy="441" r="7.5"/></g>
<g id="pe25" class="pe"><circle cx="317" cy="435" r="7.5"/></g>
<g id="pe26" class="pe"><circle cx="307" cy="448" r="7.5"/></g>
<g id="pe27" class="pe"><circle cx="247" cy="450" r="7.5"/></g>
<g id="pe28" class="pe"><circle cx="253" cy="447" r="7.5"/></g>
<g id="pe29" class="pe"><circle cx="268" cy="451" r="7.5"/></g>
<g id="pe30" class="pe"><circle cx="285" cy="449" r="7.5"/></g>
<g id="pe31" class="pe"><circle cx="335" cy="447" r="7.5"/></g>
<g id="pe32" class="pe"><circle cx="345" cy="440" r="7.5"/></g>
<g id="pe33" class="pe"><circle cx="353" cy="434" r="7.5"/></g>
<g id="pe34" class="pe"><circle cx="371" cy="437" r="7.5"/></g>
<g id="pe35" class="pe"><circle cx="372" cy="448" r="7.5"/></g>
<g id="pe36" class="pe"><circle cx="247" cy="458" r="7.5"/></g>
<g id="pe37" class="pe"><circle cx="257" cy="461" r="7.5"/></g>
<g id="pe38" class="pe"><circle cx="268" cy="465" r="7.5"/></g>
<g id="pe39" class="pe"><circle cx="310" cy="463" r="7.5"/></g>
<g id="pe40" class="pe"><circle cx="323" cy="461" r="7.5"/></g>
<g id="pe41" class="pe"><circle cx="330" cy="463" r="7.5"/></g>
<g id="pe42" class="pe"><circle cx="347" cy="463" r="7.5"/></g>
<g id="pe43" class="pe"><circle cx="223" cy="464" r="7.5"/></g>
<g id="pe44" class="pe"><circle cx="262" cy="475" r="7.5"/></g>
<g id="pe45" class="pe"><circle cx="290" cy="467" r="7.5"/></g>
<g id="pe46" class="pe"><circle cx="300" cy="478" r="7.5"/></g>
<g id="pe47" class="pe"><circle cx="287" cy="478" r="7.5"/></g>
<g id="pe48" class="pe"><circle cx="330" cy="482" r="7.5"/></g>
<g id="pe49" class="pe"><circle cx="343" cy="482" r="7.5"/></g>
<g id="pe50" class="pe"><circle cx="363" cy="482" r="7.5"/></g>
<g id="pe51" class="pe"><circle cx="382" cy="483" r="7.5"/></g>
<g id="pe52" class="pe"><circle cx="307" cy="488" r="7.5"/></g>
<g id="pe53" class="pe"><circle cx="267" cy="488" r="7.5"/></g>
<g id="pe54" class="pe"><circle cx="289" cy="491" r="7.5"/></g>
<g id="pe55" class="pe"><circle cx="347" cy="489" r="7.5"/></g>
<g id="pe56" class="pe"><circle cx="364" cy="493" r="7.5"/></g>
<g id="pe57" class="pe"><circle cx="230" cy="506" r="7.5"/></g>
<g id="pe58" class="pe"><circle cx="262" cy="503" r="7.5"/></g>
<g id="pe59" class="pe"><circle cx="294" cy="507" r="7.5"/></g>
<g id="pe60" class="pe"><circle cx="322" cy="502" r="7.5"/></g>
<g id="pe61" class="pe"><circle cx="285" cy="512" r="7.5"/></g>
<g id="pe62" class="pe"><circle cx="310" cy="513" r="7.5"/></g>
<g id="pe63" class="pe"><circle cx="323" cy="512" r="7.5"/></g>
<g id="pe64" class="pe"><circle cx="317" cy="522" r="7.5"/></g>
<g id="pe65" class="pe"><circle cx="230" cy="528" r="7.5"/></g>
<g id="pe66" class="pe"><circle cx="260" cy="535" r="7.5"/></g>
<g id="pe67" class="pe"><circle cx="286" cy="526" r="7.5"/></g>
<g id="pe68" class="pe"><circle cx="310" cy="537" r="7.5"/></g>
<g id="pe69" class="pe"><circle cx="345" cy="528" r="7.5"/></g>
<g id="pe70" class="pe"><circle cx="418" cy="386" r="7.5"/></g>
<g id="br1" class="br"><circle cx="368" cy="406" r="7.5"/></g>
<g id="br2" class="br"><circle cx="385" cy="418" r="7.5"/></g>
<g id="br3" class="br"><circle cx="390" cy="437" r="7.5"/></g>
<g id="br4" class="br"><circle cx="392" cy="447" r="7.5"/></g>
<g id="br5" class="br"><circle cx="362" cy="458" r="7.5"/></g>
<g id="br6" class="br"><circle cx="373" cy="476" r="7.5"/></g>
<g id="br7" class="br"><circle cx="388" cy="467" r="7.5"/></g>
<g id="br8" class="br"><circle cx="354" cy="505" r="7.5"/></g>
<g id="br9" class="br"><circle cx="382" cy="511" r="7.5"/></g>
<g id="br10" class="br"><circle cx="357" cy="528" r="7.5"/></g>
<g id="br11" class="br"><circle cx="380" cy="531" r="7.5"/></g>
<g id="br12" class="br"><circle cx="454" cy="399" r="7.5"/></g>
<g id="br13" class="br"><circle cx="442" cy="406" r="7.5"/></g>
<g id="br14" class="br"><circle cx="424" cy="405" r="7.5"/></g>
<g id="br15" class="br"><circle cx="399" cy="402" r="7.5"/></g>
<g id="br16" class="br"><circle cx="398" cy="411" r="7.5"/></g>
<g id="br17" class="br"><circle cx="415" cy="418" r="7.5"/></g>
<g id="br18" class="br"><circle cx="433" cy="417" r="7.5"/></g>
<g id="br19" class="br"><circle cx="428" cy="422" r="7.5"/></g>
<g id="br20" class="br"><circle cx="408" cy="442" r="7.5"/></g>
<g id="br21" class="br"><circle cx="423" cy="452" r="7.5"/></g>
<g id="br22" class="br"><circle cx="403" cy="472" r="7.5"/></g>
<g id="br23" class="br"><circle cx="423" cy="469" r="7.5"/></g>
<g id="br24" class="br"><circle cx="409" cy="508" r="7.5"/></g>
<g id="pe71" class="pe"><circle cx="387" cy="417" r="7.5"/></g>
<g id="rd1" class="rd"><circle cx="453" cy="423" r="7.5"/></g>
<g id="rd2" class="rd"><circle cx="489" cy="425" r="7.5"/></g>
<g id="rd3" class="rd"><circle cx="440" cy="428" r="7.5"/></g>
<g id="rd4" class="rd"><circle cx="459" cy="433" r="7.5"/></g>
<g id="rd5" class="rd"><circle cx="428" cy="438" r="7.5"/></g>
<g id="rd6" class="rd"><circle cx="483" cy="437" r="7.5"/></g>
<g id="rd7" class="rd"><circle cx="483" cy="447" r="7.5"/></g>
<g id="rd8" class="rd"><circle cx="475" cy="455" r="7.5"/></g>
<g id="rd9" class="rd"><circle cx="446" cy="461" r="7.5"/></g>
<g id="rd10" class="rd"><circle cx="465" cy="467" r="7.5"/></g>
<g id="rd11" class="rd"><circle cx="480" cy="477" r="7.5"/></g>
<g id="rd12" class="rd"><circle cx="522" cy="475" r="7.5"/></g>
<g id="rd13" class="rd"><circle cx="507" cy="482" r="7.5"/></g>
<g id="rd14" class="rd"><circle cx="430" cy="486" r="7.5"/></g>
<g id="rd15" class="rd"><circle cx="440" cy="487" r="7.5"/></g>
<g id="rd16" class="rd"><circle cx="455" cy="486" r="7.5"/></g>
<g id="rd17" class="rd"><circle cx="437" cy="495" r="7.5"/></g>
<g id="rd18" class="rd"><circle cx="492" cy="495" r="7.5"/></g>
<g id="rd19" class="rd"><circle cx="501" cy="497" r="7.5"/></g>
<g id="rd20" class="rd"><circle cx="519" cy="504" r="7.5"/></g>
<g id="rd21" class="rd"><circle cx="516" cy="515" r="7.5"/></g>
<g id="rd22" class="rd"><circle cx="493" cy="507" r="7.5"/></g>
<g id="rd23" class="rd"><circle cx="478" cy="510" r="7.5"/></g>
<g id="rd24" class="rd"><circle cx="431" cy="509" r="7.5"/></g>
<g id="rd25" class="rd"><circle cx="394" cy="511" r="7.5"/></g>
<g id="rd26" class="rd"><circle cx="445" cy="520" r="7.5"/></g>
<g id="rd27" class="rd"><circle cx="467" cy="518" r="7.5"/></g>
<g id="rd28" class="rd"><circle cx="478" cy="523" r="7.5"/></g>
<g id="rd29" class="rd"><circle cx="483" cy="533" r="7.5"/></g>
<g id="rd30" class="rd"><circle cx="465" cy="533" r="7.5"/></g>
<g id="rd31" class="rd"><circle cx="467" cy="543" r="7.5"/></g>
<g id="rd32" class="rd"><circle cx="429" cy="532" r="7.5"/></g>
<g id="rd33" class="rd"><circle cx="443" cy="533" r="7.5"/></g>
<g id="rd34" class="rd"><circle cx="408" cy="523" r="7.5"/></g>
<g id="rd35" class="rd"><circle cx="385" cy="525" r="7.5"/></g>
<g id="rd36" class="rd"><circle cx="343" cy="545" r="7.5"/></g>
<g id="rd37" class="rd"><circle cx="375" cy="546" r="7.5"/></g>
<g id="rd38" class="rd"><circle cx="398" cy="551" r="7.5"/></g>
<g id="rd39" class="rd"><circle cx="403" cy="557" r="7.5"/></g>
<g id="rd40" class="rd"><circle cx="423" cy="546" r="7.5"/></g>
<g id="rd41" class="rd"><circle cx="453" cy="546" r="7.5"/></g>
<g id="rd42" class="rd"><circle cx="434" cy="562" r="7.5"/></g>
<g id="rd43" class="rd"><circle cx="430" cy="573" r="7.5"/></g>
<g id="rd44" class="rd"><circle cx="455" cy="572" r="7.5"/></g>
<g id="rd45" class="rd"><circle cx="469" cy="569" r="7.5"/></g>
<g id="rd46" class="rd"><circle cx="363" cy="569" r="7.5"/></g>
<g id="rd47" class="rd"><circle cx="373" cy="568" r="7.5"/></g>
<g id="rd48" class="rd"><circle cx="403" cy="577" r="7.5"/></g>
<g id="rd49" class="rd"><circle cx="410" cy="579" r="7.5"/></g>
<g id="rd50" class="rd"><circle cx="431" cy="585" r="7.5"/></g>
<g id="rd51" class="rd"><circle cx="446" cy="585" r="7.5"/></g>
<g id="pk57" class="pk"><circle cx="361" cy="545" r="7.5"/></g>
<g id="pk58" class="pk"><circle cx="417" cy="557" r="7.5"/></g>
<g id="pk59" class="pk"><circle cx="418" cy="568" r="7.5"/></g>
<g id="pk60" class="pk"><circle cx="393" cy="578" r="7.5"/></g>
<g id="pk61" class="pk"><circle cx="343" cy="591" r="7.5"/></g>
<g id="pk62" class="pk"><circle cx="420" cy="606" r="7.5"/></g>
<g id="pk63" class="pk"><circle cx="311" cy="630" r="7.5"/></g>
<g id="pk64" class="pk"><circle cx="328" cy="636" r="7.5"/></g>
<g id="pk65" class="pk"><circle cx="348" cy="638" r="7.5"/></g>
</g>
</svg>
